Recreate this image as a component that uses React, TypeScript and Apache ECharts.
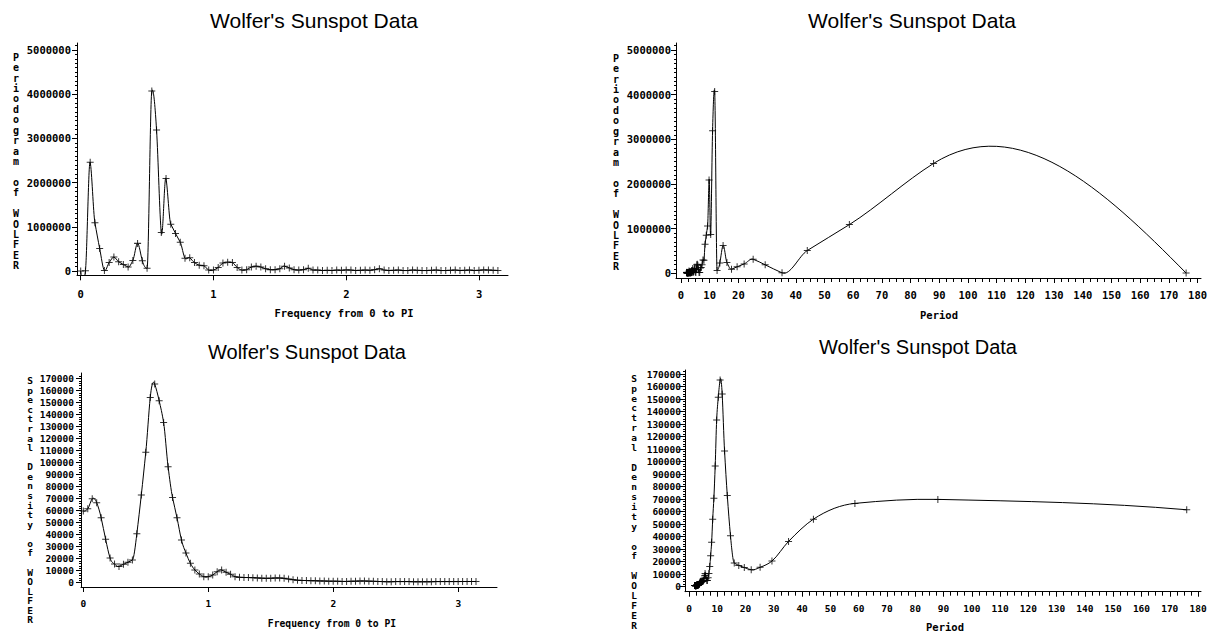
import React, { useEffect, useRef } from "react";
import * as echarts from "echarts";

// Wolfer's yearly sunspot numbers, 1749-1924: 176 observations.
const OBS = 176;
const TITLE = "Wolfer's Sunspot Data";

// Periodogram of WOLFER at the Fourier frequencies 2*pi*k/176, k = 0..88
const PERIODOGRAM = [
  0, 5000, 2460000, 1090000, 510000, 10000, 190000, 315000, 210000, 145000,
  90000, 240000, 625000, 230000, 60000, 4070000, 3190000, 870000, 2090000, 1060000,
  850000, 650000, 290000, 300000, 190000, 130000, 120000, 20000, 20000, 80000,
  180000, 200000, 190000, 80000, 20000, 30000, 90000, 110000, 90000, 50000,
  30000, 30000, 50000, 110000, 70000, 30000, 20000, 30000, 60000, 20000,
  20000, 10000, 15000, 10000, 20000, 15000, 25000, 20000, 10000, 15000,
  20000, 15000, 30000, 50000, 20000, 10000, 15000, 20000, 10000, 10000,
  20000, 15000, 10000, 10000, 15000, 20000, 10000, 10000, 15000, 20000,
  10000, 15000, 20000, 10000, 15000, 25000, 20000, 15000, 10000,
];

// Smoothed spectral density estimate at the same frequencies
const SPECTRAL_DENSITY = [
  59600, 61500, 69800, 66600, 54000, 36200, 20500, 15500, 13500, 15300,
  17000, 18900, 40800, 73000, 108500, 154000, 165300, 151400, 133200, 96500,
  70800, 54000, 35500, 24700, 16100, 10600, 7200, 5000, 5000, 6400,
  9200, 10600, 8700, 7000, 5000, 4500, 4300, 4300, 4200, 4000,
  3800, 3600, 3700, 3900, 3900, 3600, 3000, 2500, 2100, 1900,
  1800, 1700, 1600, 1500, 1400, 1300, 1300, 1200, 1100, 1100,
  1200, 1300, 1400, 1400, 1300, 1200, 1000, 900, 800, 800,
  900, 900, 900, 900, 800, 800, 800, 800, 800, 900,
  900, 900, 900, 900, 900, 1000, 1000, 1000, 1000,
];

const FREQ_TICKS = [0, 1, 2, 3];
const PERIOD_TICKS = [0, 10, 20, 30, 40, 50, 60, 70, 80, 90, 100, 110, 120, 130, 140, 150, 160, 170, 180];
const PGRAM_TICKS = [0, 1000000, 2000000, 3000000, 4000000, 5000000];
const DENSITY_TICKS = [
  0, 10000, 20000, 30000, 40000, 50000, 60000, 70000, 80000, 90000,
  100000, 110000, 120000, 130000, 140000, 150000, 160000, 170000,
];

// Frequency of each ordinate, and the period (in years) for k >= 1
const FREQUENCY = PERIODOGRAM.map((_, k) => (2 * Math.PI * k) / OBS);
const PERIOD = FREQUENCY.slice(1).map((w) => (2 * Math.PI) / w);

const LABEL_FONT = '"DejaVu Sans Mono", monospace';
const TITLE_FONT = '"Liberation Sans", Arial, sans-serif';

function steps(lo: number, hi: number, step: number): number[] {
  const out: number[] = [];
  for (let i = 0; lo + i * step <= hi + 1e-9; i++) out.push(lo + i * step);
  return out;
}

// Akima tangents for a smooth piecewise-cubic curve through (x, y)
function akimaSlopes(x: number[], y: number[]): number[] {
  const n = x.length;
  const d: number[] = [];
  for (let i = 0; i < n - 1; i++) d.push((y[i + 1] - y[i]) / (x[i + 1] - x[i]));
  // secants extended by two on each side; ext[j] is secant j - 2
  const dm1 = 2 * d[0] - d[1];
  const dm2 = 2 * dm1 - d[0];
  const dn = 2 * d[n - 2] - d[n - 3];
  const dn1 = 2 * dn - d[n - 2];
  const ext = [dm2, dm1, ...d, dn, dn1];
  const m: number[] = [];
  for (let i = 0; i < n; i++) {
    const a = ext[i];
    const b = ext[i + 1];
    const c = ext[i + 2];
    const e = ext[i + 3];
    const w1 = Math.abs(e - c);
    const w2 = Math.abs(b - a);
    m.push(w1 + w2 === 0 ? (b + c) / 2 : (w1 * b + w2 * c) / (w1 + w2));
  }
  return m;
}

const PLUS = "path://M3 0h1v3h3v1h-3v3h-1v-3h-3v-1h3z";

type Panel = {
  xs: number[];
  ys: number[];
  frame: [number, number, number, number];
  x0: number;
  xPx: number;
  y0: number;
  yPx: number;
  xTicks: number[];
  xMinor: number[] | null;
  yTicks: number[];
  yMinor: number[];
  labelSize: number;
  xMargin: number;
  yMargin: number;
  title: [number, number, number];
  xTitle: [string, number, number, number];
  yTitle: [string, number, number, number, number];
};

const PANELS: Panel[] = [
  {
    xs: FREQUENCY, ys: PERIODOGRAM,
    frame: [77, 43, 508, 275.3], x0: 80.7, xPx: 132.8, y0: 271, yPx: 44.2e-6,
    xTicks: FREQ_TICKS, xMinor: null, yTicks: PGRAM_TICKS, yMinor: steps(0, 5100000, 100000),
    labelSize: 10.5, xMargin: 12.5, yMargin: 6,
    title: [314, 20, 21],
    xTitle: ["Frequency from 0 to PI", 344, 313, 10.5],
    yTitle: ["Periodogram of WOLFER", 16, 57.3, 10.42, 10],
  },
  {
    xs: PERIOD, ys: PERIODOGRAM.slice(1),
    frame: [676, 43, 1201, 278], x0: 681, xPx: 2.87, y0: 273.3, yPx: 44.66e-6,
    xTicks: PERIOD_TICKS, xMinor: steps(0, 180, 2.5), yTicks: PGRAM_TICKS, yMinor: steps(0, 5100000, 100000),
    labelSize: 10.5, xMargin: 11, yMargin: 5,
    title: [912, 20, 21],
    xTitle: ["Period", 939, 315, 10.5],
    yTitle: ["Periodogram of WOLFER", 616, 58.3, 10.42, 10],
  },
  {
    xs: FREQUENCY, ys: SPECTRAL_DENSITY,
    frame: [81, 373, 497, 587], x0: 83.3, xPx: 125, y0: 582.7, yPx: 12.02e-4,
    xTicks: FREQ_TICKS, xMinor: null, yTicks: DENSITY_TICKS, yMinor: steps(0, 172000, 2000),
    labelSize: 9.5, xMargin: 10.5, yMargin: 7,
    title: [307, 352, 20],
    xTitle: ["Frequency from 0 to PI", 332, 623, 9.7],
    yTitle: ["Spectral Density of WOLFER", 30, 380.7, 9.57, 9.5],
  },
  {
    xs: PERIOD, ys: SPECTRAL_DENSITY.slice(1),
    frame: [685, 370, 1201, 591.7], x0: 689, xPx: 2.828, y0: 586.7, yPx: 12.51e-4,
    xTicks: PERIOD_TICKS, xMinor: steps(0, 180, 2.5), yTicks: DENSITY_TICKS, yMinor: steps(0, 172000, 2000),
    labelSize: 9.5, xMargin: 10.5, yMargin: 4,
    title: [918, 347, 20],
    xTitle: ["Period", 945, 627, 10.5],
    yTitle: ["Spectral Density of WOLFER", 634, 378.3, 9.87, 9.5],
  },
];

function majorAxis(gridIndex: number, pos: string, min: number, max: number, ticks: number[], size: number, margin: number) {
  return {
    type: "value", gridIndex, position: pos, min, max,
    axisLine: { show: true, onZero: false, lineStyle: { color: "#000", width: 1 } },
    axisTick: { show: true, customValues: ticks, length: 5, lineStyle: { color: "#000", width: 1 } },
    axisLabel: {
      show: true, customValues: ticks, formatter: (v: number) => String(v),
      color: "#000", fontFamily: LABEL_FONT, fontWeight: "bold", fontSize: size, lineHeight: 12, margin,
    },
    splitLine: { show: false },
  };
}

function minorAxis(gridIndex: number, pos: string, min: number, max: number, ticks: number[], len: number) {
  return {
    type: "value", gridIndex, position: pos, min, max,
    axisLine: { show: false, onZero: false },
    axisTick: { show: true, customValues: ticks, length: len, lineStyle: { color: "#000", width: 1 } },
    axisLabel: { show: false },
    splitLine: { show: false },
  };
}

function buildOption() {
  const grid: any[] = [];
  const xAxis: any[] = [];
  const yAxis: any[] = [];
  const series: any[] = [];
  const graphic: any[] = [];

  PANELS.forEach((p, gi) => {
    const [l, t, r, b] = p.frame;
    grid.push({ left: l, top: t, width: r - l, height: b - t, containLabel: false, outerBoundsMode: "none" });
    const xMin = (l - p.x0) / p.xPx;
    const xMax = (r - p.x0) / p.xPx;
    const yMin = -(b - p.y0) / p.yPx;
    const yMax = (p.y0 - t) / p.yPx;

    const xi = xAxis.length;
    xAxis.push(majorAxis(gi, "bottom", xMin, xMax, p.xTicks, p.labelSize, p.xMargin));
    if (p.xMinor) xAxis.push(minorAxis(gi, "bottom", xMin, xMax, p.xMinor, 4));
    const yi = yAxis.length;
    yAxis.push(majorAxis(gi, "left", yMin, yMax, p.yTicks, p.labelSize, p.yMargin));
    yAxis.push(minorAxis(gi, "left", yMin, yMax, p.yMinor, 2));

    // Smooth curve through the ordinates, sorted along the horizontal axis
    const order = p.xs.map((_, i) => i).sort((i, j) => p.xs[i] - p.xs[j]);
    const sx = order.map((i) => p.xs[i]);
    const sy = order.map((i) => p.ys[i]);
    const slope = akimaSlopes(sx, sy);
    series.push({
      type: "custom",
      xAxisIndex: xi,
      yAxisIndex: yi,
      clip: true,
      silent: true,
      data: sx.map((x, i) => [x, sy[i]]),
      renderItem: (params: any, api: any) => {
        const i = params.dataIndex;
        if (i >= sx.length - 1) return null;
        const h = sx[i + 1] - sx[i];
        const p0 = api.coord([sx[i], sy[i]]);
        const p1 = api.coord([sx[i + 1], sy[i + 1]]);
        const c0 = api.coord([sx[i] + h / 3, sy[i] + (slope[i] * h) / 3]);
        const c1 = api.coord([sx[i + 1] - h / 3, sy[i + 1] - (slope[i + 1] * h) / 3]);
        return {
          type: "bezierCurve",
          shape: { x1: p0[0], y1: p0[1], x2: p1[0], y2: p1[1], cpx1: c0[0], cpy1: c0[1], cpx2: c1[0], cpy2: c1[1] },
          style: { stroke: "#000", fill: null, lineWidth: 1 },
        };
      },
    });
    series.push({
      type: "scatter",
      xAxisIndex: xi,
      yAxisIndex: yi,
      symbol: PLUS,
      symbolSize: 7,
      silent: true,
      itemStyle: { color: "#000" },
      data: p.xs.map((x, i) => [x, p.ys[i]]),
      z: 3,
    });

    graphic.push({
      type: "text", x: p.title[0], y: p.title[1],
      style: { text: TITLE, fill: "#000", font: `${p.title[2]}px ${TITLE_FONT}`, textAlign: "center", textVerticalAlign: "middle" },
    });
    graphic.push({
      type: "text", x: p.xTitle[1], y: p.xTitle[2],
      style: { text: p.xTitle[0], fill: "#000", font: `bold ${p.xTitle[3]}px ${LABEL_FONT}`, textAlign: "center", textVerticalAlign: "middle" },
    });
    const [yt, yx, yFirst, lh, ys] = p.yTitle;
    graphic.push({
      type: "text", x: yx, y: yFirst - lh / 2,
      style: {
        text: yt.split("").join("\n"), fill: "#000", font: `bold ${ys}px ${LABEL_FONT}`,
        lineHeight: lh, textAlign: "center", textVerticalAlign: "top",
      },
    });
  });

  return { animation: false, backgroundColor: "#fff", grid, xAxis, yAxis, series, graphic };
}

export default function App() {
  const ref = useRef<HTMLDivElement>(null);
  useEffect(() => {
    if (!ref.current) return;
    const chart = echarts.init(ref.current, null, { renderer: "svg" });
    chart.setOption(buildOption() as any);
    return () => chart.dispose();
  }, []);
  return (
    <div
      ref={ref}
      style={{ position: "fixed", left: 0, top: 0, width: 1231, height: 634, background: "#fff" }}
    />
  );
}
